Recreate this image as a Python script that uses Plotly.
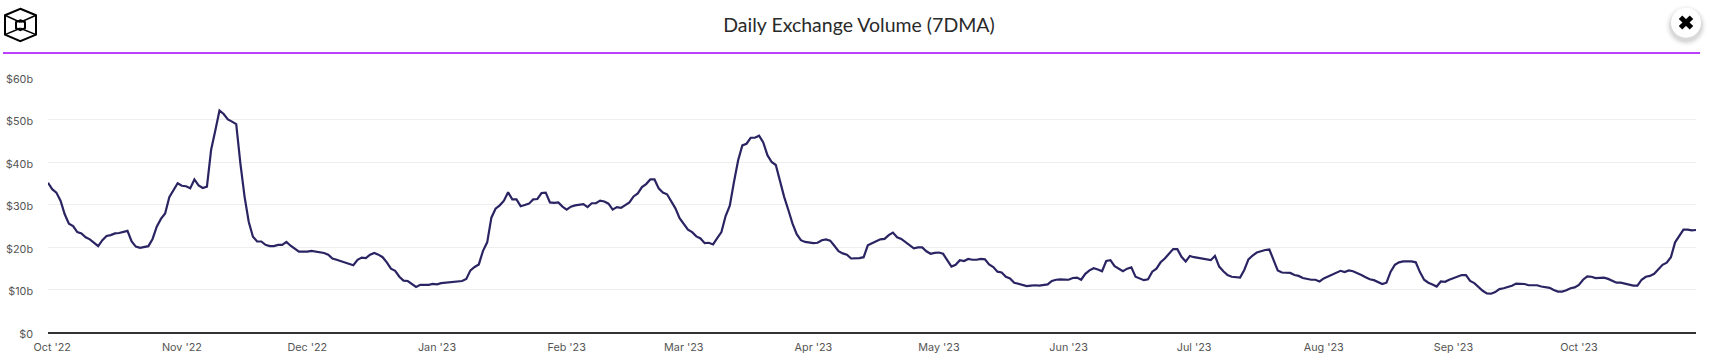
import pandas as pd
import plotly.graph_objects as go

TITLE = "Daily Exchange Volume (7DMA)"
START_DATE = "2022-09-30"
TICK_DATES = ["2022-10-01", "2022-11-01", "2022-12-01", "2023-01-01", "2023-02-01", "2023-03-01",
              "2023-04-01", "2023-05-01", "2023-06-01", "2023-07-01", "2023-08-01", "2023-09-01", "2023-10-01"]
TICK_LABELS = ["Oct '22", "Nov '22", "Dec '22", "Jan '23", "Feb '23", "Mar '23",
               "Apr '23", "May '23", "Jun '23", "Jul '23", "Aug '23", "Sep '23", "Oct '23"]
Y_TICKS = [0, 10, 20, 30, 40, 50, 60]
Y_LABELS = ["$0", "$10b", "$20b", "$30b", "$40b", "$50b", "$60b"]

volume_q4_2022 = [
    35.1, 33.6, 32.8, 30.9, 27.7, 25.5, 24.9, 23.5, 23.2, 22.3, 21.8, 21.1, 20.2, 21.6, 22.6, 22.8,
    23.2, 23.3, 23.6, 23.8, 21.3, 20.1, 19.8, 20.0, 20.2, 21.9, 24.8, 26.6, 27.9, 31.7, 33.2, 35.0,
    34.4, 34.3, 33.8, 35.9, 34.5, 33.9, 34.2, 42.9, 47.4, 52.1, 51.3, 50.0, 49.5, 48.9, 39.6, 31.8,
    25.9, 22.4, 21.3, 21.3, 20.5, 20.2, 20.2, 20.5, 20.5, 21.2, 20.3, 19.5, 18.9, 18.9, 18.9, 19.1,
    18.9, 18.8, 18.6, 18.2, 17.3, 17.0, 16.7, 16.3, 16.0, 15.7, 17.0, 17.5, 17.4, 18.2, 18.6, 18.2,
    17.6, 16.4, 14.9, 14.4, 13.0, 12.1, 12.0, 11.3, 10.6, 11.1, 11.1, 11.1,
]
volume_q1_2023 = [
    11.3, 11.2, 11.5, 11.6, 11.8, 11.8, 12.0, 12.0, 12.5, 14.5, 15.3, 15.9, 19.1, 21.1, 26.9, 29.0,
    29.8, 30.9, 32.9, 31.2, 31.2, 29.6, 29.9, 30.2, 31.2, 31.3, 32.7, 32.8, 30.5, 30.4, 30.5, 29.5,
    28.8, 29.5, 29.8, 30.0, 30.1, 29.4, 30.3, 30.3, 30.9, 30.7, 30.2, 28.8, 29.4, 29.2, 29.9, 30.5,
    31.9, 32.6, 34.1, 34.8, 35.9, 35.9, 33.8, 32.8, 32.4, 30.9, 29.1, 26.8, 25.4, 24.1, 23.5, 22.5,
    22.0, 20.9, 21.0, 20.6, 22.1, 23.5, 27.3, 29.7, 35.3, 40.4, 43.9, 44.3, 45.7, 45.7, 46.2, 44.6,
    41.6, 40.0, 39.3, 35.3, 31.8, 28.7, 25.5, 23.0, 21.6, 21.2, 21.0, 20.9, 21.0, 21.6, 21.8, 21.5,
    20.3, 19.0, 18.5, 18.2, 17.3, 17.3, 17.4,
]
volume_q2_2023 = [
    17.6, 20.4, 20.9, 21.4, 21.8, 21.9, 22.8, 23.4, 22.3, 21.9, 21.1, 20.3, 19.7, 19.9, 19.9, 19.0,
    18.4, 18.6, 18.7, 18.4, 17.0, 15.4, 15.8, 16.9, 16.7, 17.2, 17.0, 17.0, 17.2, 17.1, 15.9, 15.3,
    14.2, 14.0, 13.0, 12.6, 11.6, 11.3, 11.1, 10.8, 10.9, 11.0, 10.9, 11.0, 11.2, 12.0, 12.3, 12.4,
    12.3, 12.3, 12.7, 12.8, 12.3, 13.7, 14.5, 15.0, 14.7, 14.3, 16.7, 16.9, 15.5, 14.9, 14.3, 14.9,
    15.2, 13.0, 12.6, 12.2, 12.4, 14.2, 14.9, 16.4, 17.3, 18.4, 19.5, 19.5, 17.7, 16.6, 17.9, 17.6,
    17.4, 17.3, 17.0, 16.9, 17.9, 15.4, 14.3, 13.4, 13.0, 12.9, 12.8, 14.6, 17.1, 18.0, 18.7, 19.0,
    19.3, 19.4, 17.0, 14.5, 14.0,
]
volume_q3_2023 = [
    14.0, 13.9, 13.4, 13.2, 12.7, 12.5, 12.3, 12.3, 11.9, 12.6, 13.1, 13.5, 13.9, 14.4, 14.1, 14.5,
    14.3, 13.9, 13.4, 12.9, 12.4, 12.2, 11.8, 11.3, 11.6, 14.2, 15.8, 16.4, 16.6, 16.6, 16.6, 16.4,
    14.1, 12.3, 11.6, 11.2, 10.7, 11.9, 11.8, 12.3, 12.7, 13.0, 13.4, 13.4, 12.0, 11.5, 10.5, 9.7,
    9.1, 9.0, 9.4, 10.1, 10.3, 10.6, 10.9, 11.4, 11.4, 11.3, 11.0, 11.0, 11.0, 10.7, 10.5, 10.4,
    9.9, 9.5, 9.5, 9.8, 10.3, 10.5, 11.1, 12.3, 13.1, 13.0, 12.7, 12.7, 12.8, 12.5, 12.0, 11.6,
    11.6, 11.4, 11.1, 10.9, 10.9, 12.3, 13.0, 13.2, 13.7, 14.8, 15.8, 16.3, 17.6, 21.1, 22.6, 24.1,
    24.1, 23.9, 24.0,
]
volume = volume_q4_2022 + volume_q1_2023 + volume_q2_2023 + volume_q3_2023
dates = pd.date_range(START_DATE, periods=len(volume), freq="D")

W, H = 1710, 360
L, R, T, B = 48, 14, 76.5, 27.5
px = lambda x: (x - L) / (W - L - R)
py = lambda y: 1 - (y - T) / (H - T - B)

def page_line(x0, y0, x1, y1, color, width):
    return dict(type="line", xref="paper", yref="paper", x0=px(x0), y0=py(y0), x1=px(x1), y1=py(y1),
                line=dict(color=color, width=width), layer="above")

def page_circle(cx, cy, r, fill):
    return dict(type="circle", xref="paper", yref="paper", x0=px(cx - r), x1=px(cx + r), y0=py(cy + r), y1=py(cy - r),
                fillcolor=fill, line=dict(width=0), layer="above")

def page_path(points, color, width):
    d = "M" + " L".join(f"{px(x):.5f},{py(y):.5f}" for x, y in points) + " Z"
    return dict(type="path", xref="paper", yref="paper", path=d, line=dict(color=color, width=width),
                fillcolor="rgba(0,0,0,0)", layer="above")

shapes = [page_line(3, 52.3, 1700, 52.3, "#a600ff", 1.5)]

# logo: outer hexagon, inner hexagon, cube edges
k = "#000000"
shapes += [
    page_path([(20.3, 8), (36, 14.5), (36, 34), (20.3, 40.5), (5, 34), (5, 14.5)], k, 2),
    page_path([(20.3, 19.5), (25, 21.5), (25, 27.5), (20.3, 29.5), (16, 27.5), (16, 21.5)], k, 2),
    page_line(5, 14.5, 20.3, 21.5, k, 1.5), page_line(36, 14.5, 20.3, 21.5, k, 1.5),
    page_line(5, 34, 20.3, 27.5, k, 1.5), page_line(36, 34, 20.3, 27.5, k, 1.5),
]

# close button
for r, a in [(21, 0.012), (20, 0.015), (19, 0.02), (18, 0.03), (17, 0.035), (16, 0.04)]:
    shapes.append(page_circle(1686, 25, r, f"rgba(0,0,0,{a})"))
shapes.append(page_circle(1686, 22, 15, "#ffffff"))
shapes += [page_line(1680.5, 16.5, 1691.5, 27, k, 5), page_line(1691.5, 16.5, 1680.5, 27, k, 5)]

fig = go.Figure(go.Scatter(x=dates, y=volume, mode="lines", line=dict(color="#2a2463", width=2.2),
                           hovertemplate="%{x|%b %d, %Y}: $%{y:.1f}b<extra></extra>"))
fig.update_layout(
    width=W, height=H, margin=dict(l=L, r=R, t=T, b=B, pad=0), autosize=False,
    paper_bgcolor="#ffffff", plot_bgcolor="#ffffff", showlegend=False, shapes=shapes,
    font=dict(family="Inter, sans-serif", size=10.8, color="#555555"),
    title=dict(text=TITLE, x=859 / W, xanchor="center", y=1 - 25.5 / H, yanchor="middle",
               font=dict(family="Lato, sans-serif", size=19.5, color="#2a2a2a")),
    xaxis=dict(type="date", range=[dates[0], dates[-1]], tickmode="array", tickvals=TICK_DATES, ticktext=TICK_LABELS,
               showgrid=False, showline=True, linecolor="#333333", linewidth=1.5, ticks="", zeroline=False,
               ticklabelstandoff=4, automargin=False),
    yaxis=dict(range=[0, 60], tickmode="array", tickvals=Y_TICKS, ticktext=Y_LABELS, showgrid=True,
               gridcolor="#eeeeee", gridwidth=1, zeroline=False, showline=False, ticks="", ticklabelstandoff=14,
               ticklabelshift=2, automargin=False),
)
fig.write_html("out.html", config={"displayModeBar": False}, post_script="document.body.style.margin='0';")
